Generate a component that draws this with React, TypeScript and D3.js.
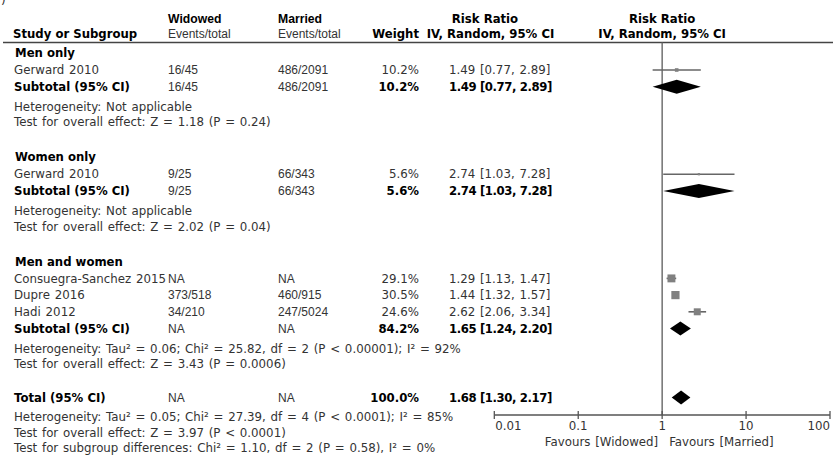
import React from "react";
import * as d3 from "d3";

// ---- data ----
const groupNames = ["Men only", "Women only", "Men and women"];
const studyNames = ["Gerward 2010", "Gerward 2010", "Consuegra-Sanchez 2015", "Dupre 2016", "Hadi 2012"];
const studyGroup = [0, 1, 2, 2, 2];
const studyWidowed = ["16/45", "9/25", "NA", "373/518", "34/210"];
const studyMarried = ["486/2091", "66/343", "NA", "460/915", "247/5024"];
const studyWeight = [10.2, 5.6, 29.1, 30.5, 24.6];
const studyRR = [1.49, 2.74, 1.29, 1.44, 2.62];
const studyLow = [0.77, 1.03, 1.13, 1.32, 2.06];
const studyHigh = [2.89, 7.28, 1.47, 1.57, 3.34];

const subtotalWidowed = ["16/45", "9/25", "NA"];
const subtotalMarried = ["486/2091", "66/343", "NA"];
const subtotalWeight = [10.2, 5.6, 84.2];
const subtotalRR = [1.49, 2.74, 1.65];
const subtotalLow = [0.77, 1.03, 1.24];
const subtotalHigh = [2.89, 7.28, 2.2];
const heterogeneityTexts = [
  "Heterogeneity: Not applicable",
  "Heterogeneity: Not applicable",
  "Heterogeneity: Tau² = 0.06; Chi² = 25.82, df = 2 (P < 0.00001); I² = 92%",
];
const overallTexts = [
  "Test for overall effect: Z = 1.18 (P = 0.24)",
  "Test for overall effect: Z = 2.02 (P = 0.04)",
  "Test for overall effect: Z = 3.43 (P = 0.0006)",
];

const totalLabel = "Total (95% CI)";
const totalWidowed = "NA";
const totalMarried = "NA";
const totalWeight = 100.0;
const totalRR = 1.68;
const totalLow = 1.3;
const totalHigh = 2.17;
const totalNotes = [
  "Heterogeneity: Tau² = 0.05; Chi² = 27.39, df = 4 (P < 0.0001); I² = 85%",
  "Test for overall effect: Z = 3.97 (P < 0.0001)",
  "Test for subgroup differences: Chi² = 1.10, df = 2 (P = 0.58), I² = 0%",
];

const axisTicks = [0.01, 0.1, 1, 10, 100];
const axisTickLabels = ["0.01", "0.1", "1", "10", "100"];
const favoursLeft = "Favours [Widowed]";
const favoursRight = "Favours [Married]";

// ---- layout ----
const W = 833;
const H = 459;
const LUC = "'DejaVu Sans', 'Noto Sans', sans-serif";
const HEL = "'Liberation Sans', Arial, sans-serif";
const REG = 11.8;
const WS = 1;
const BOLD = 11.7;
const TXT = "#333";

const xStudy = 14;
const xWid = 168;
const xMar = 278;
const xWeightEnd = 419;
const xCI = 449;

const fmt2 = (v: number) => v.toFixed(2);
const ciText = (rr: number, lo: number, hi: number) => `${fmt2(rr)} [${fmt2(lo)}, ${fmt2(hi)}]`;

export default function App() {
  const x = d3.scaleLog().domain([0.01, 100]).range([494.3, 830]);
  const sq = d3.scalePow().exponent(0.75).domain([0, 30.5]).range([0, 8.2]);
  const axisY = 415;
  const headerLineY = 42.5;
  const diamondHalf = 7;

  type Row = { kind: string; y: number; i: number };
  const rows: Row[] = [];
  let y = 53;
  groupNames.forEach((g, gi) => {
    rows.push({ kind: "group", y, i: gi });
    y += 17;
    const idx = studyGroup.map((sg, si) => (sg === gi ? si : -1)).filter((v) => v >= 0);
    idx.forEach((si) => {
      rows.push({ kind: "study", y, i: si });
      y += 16.7;
    });
    rows.push({ kind: "subtotal", y, i: gi });
    y += 20;
    rows.push({ kind: "het", y, i: gi });
    y += 15.5;
    rows.push({ kind: "test", y, i: gi });
    y += gi < groupNames.length - 1 ? 35 : 33.5;
  });
  rows.push({ kind: "total", y, i: 0 });
  y += 19.5;
  totalNotes.forEach((_, k) => {
    rows.push({ kind: "note", y, i: k });
    y += 15.5;
  });

  const bl = (cy: number) => cy + 4.2;

  const els: React.ReactNode[] = [];
  rows.forEach((r, k) => {
    const b = bl(r.y);
    if (r.kind === "group") {
      els.push(
        <text key={k} x={xStudy + 1} y={b} fontFamily={LUC} fontWeight="bold" fontSize={BOLD} fill="#000">
          {groupNames[r.i]}
        </text>
      );
    } else if (r.kind === "study") {
      const i = r.i;
      const cx = x(studyRR[i]);
      const s = sq(studyWeight[i]);
      els.push(
        <g key={k}>
          <text x={xStudy} y={b} fontFamily={LUC} fontSize={REG} wordSpacing={WS} fill={TXT}>{studyNames[i]}</text>
          <text x={xWid} y={b} fontFamily={HEL} fontSize={12} fill={TXT}>{studyWidowed[i]}</text>
          <text x={xMar} y={b} fontFamily={HEL} fontSize={12} fill={TXT}>{studyMarried[i]}</text>
          <text x={xWeightEnd} y={b} textAnchor="end" fontFamily={LUC} fontSize={REG} fill={TXT}>
            {studyWeight[i].toFixed(1)}%
          </text>
          <text x={xCI} y={b} fontFamily={LUC} fontSize={REG} wordSpacing={WS} fill={TXT}>
            {ciText(studyRR[i], studyLow[i], studyHigh[i])}
          </text>
          <line x1={x(studyLow[i])} x2={x(studyHigh[i])} y1={r.y} y2={r.y} stroke="#666" strokeWidth={1.6} />
          <rect x={cx - s / 2} y={r.y - s / 2} width={s} height={s} fill="#808080" />
        </g>
      );
    } else if (r.kind === "subtotal" || r.kind === "total") {
      const isT = r.kind === "total";
      const i = r.i;
      const rr = isT ? totalRR : subtotalRR[i];
      const lo = isT ? totalLow : subtotalLow[i];
      const hi = isT ? totalHigh : subtotalHigh[i];
      const wt = isT ? totalWeight : subtotalWeight[i];
      const pts = [
        [x(lo), r.y],
        [x(rr), r.y - diamondHalf],
        [x(hi), r.y],
        [x(rr), r.y + diamondHalf],
      ];
      els.push(
        <g key={k}>
          <text x={xStudy} y={b} fontFamily={LUC} fontWeight="bold" fontSize={BOLD} fill="#000">
            {isT ? totalLabel : "Subtotal (95% CI)"}
          </text>
          <text x={xWid} y={b} fontFamily={HEL} fontSize={12} fill={TXT}>{isT ? totalWidowed : subtotalWidowed[i]}</text>
          <text x={xMar} y={b} fontFamily={HEL} fontSize={12} fill={TXT}>{isT ? totalMarried : subtotalMarried[i]}</text>
          <text x={xWeightEnd} y={b} textAnchor="end" fontFamily={LUC} fontWeight="bold" fontSize={BOLD} fill="#000">
            {wt.toFixed(1)}%
          </text>
          <text x={xCI} y={b} fontFamily={LUC} fontWeight="bold" fontSize={BOLD} letterSpacing={-0.4} fill="#000">
            {ciText(rr, lo, hi)}
          </text>
          <path d={(d3.line()(pts as [number, number][]) || "") + "Z"} fill="#000" />
        </g>
      );
    } else if (r.kind === "het" || r.kind === "test" || r.kind === "note") {
      const t = r.kind === "het" ? heterogeneityTexts[r.i] : r.kind === "test" ? overallTexts[r.i] : totalNotes[r.i];
      els.push(
        <text key={k} x={xStudy} y={b} fontFamily={LUC} fontSize={REG} wordSpacing={WS} fill={TXT}>{t}</text>
      );
    }
  });

  return (
    <svg width={W} height={H} style={{ position: "absolute", left: 0, top: 0, background: "#fff" }}>
      <rect width={W} height={H} fill="#fff" />
      <text x={1} y={4} fontFamily={LUC} fontSize={12} fill="#333">)</text>
      {/* header */}
      <text x={xWid} y={22.5} fontFamily={HEL} fontWeight="bold" fontSize={12.2} fill="#000">Widowed</text>
      <text x={xWid} y={38} fontFamily={HEL} fontSize={12} fill={TXT}>Events/total</text>
      <text x={xMar} y={22.5} fontFamily={HEL} fontWeight="bold" fontSize={12.2} fill="#000">Married</text>
      <text x={xMar} y={38} fontFamily={HEL} fontSize={12} fill={TXT}>Events/total</text>
      <text x={xStudy - 1} y={38} fontFamily={LUC} fontWeight="bold" fontSize={BOLD} fill="#000">Study or Subgroup</text>
      <text x={xWeightEnd} y={38} textAnchor="end" fontFamily={LUC} fontWeight="bold" fontSize={BOLD} fill="#000">Weight</text>
      <text x={485} y={22.5} textAnchor="middle" fontFamily={LUC} fontWeight="bold" fontSize={BOLD} fill="#000">Risk Ratio</text>
      <text x={490.5} y={38} textAnchor="middle" fontFamily={LUC} fontWeight="bold" fontSize={BOLD} fill="#000">IV, Random, 95% CI</text>
      <text x={x(1)} y={22.5} textAnchor="middle" fontFamily={LUC} fontWeight="bold" fontSize={BOLD} fill="#000">Risk Ratio</text>
      <text x={x(1)} y={38} textAnchor="middle" fontFamily={LUC} fontWeight="bold" fontSize={BOLD} fill="#000">IV, Random, 95% CI</text>
      <line x1={3} x2={W} y1={headerLineY} y2={headerLineY} stroke="#444" strokeWidth={1.3} />

      {/* null line */}
      <line x1={x(1)} x2={x(1)} y1={headerLineY} y2={axisY} stroke="#666" strokeWidth={1.4} />

      {els}

      {/* axis */}
      <line x1={x(0.01)} x2={x(100)} y1={axisY} y2={axisY} stroke="#555" strokeWidth={1.3} />
      {axisTicks.map((t, i) => (
        <g key={"t" + i}>
          <line x1={x(t)} x2={x(t)} y1={axisY - 4} y2={axisY + 4} stroke="#555" strokeWidth={1.3} />
          <text
            x={i === 0 ? x(t) + 1 : x(t)}
            y={430}
            textAnchor={i === 0 ? "start" : i === axisTicks.length - 1 ? "end" : "middle"}
            fontFamily={LUC}
            fontSize={REG}
            fill={TXT}
          >
            {axisTickLabels[i]}
          </text>
        </g>
      ))}
      <text x={x(1) - 4} y={445.5} textAnchor="end" fontFamily={LUC} fontSize={REG} wordSpacing={WS} fill={TXT}>{favoursLeft}</text>
      <text x={x(1) + 7} y={445.5} textAnchor="start" fontFamily={LUC} fontSize={REG} wordSpacing={WS} fill={TXT}>{favoursRight}</text>
    </svg>
  );
}
